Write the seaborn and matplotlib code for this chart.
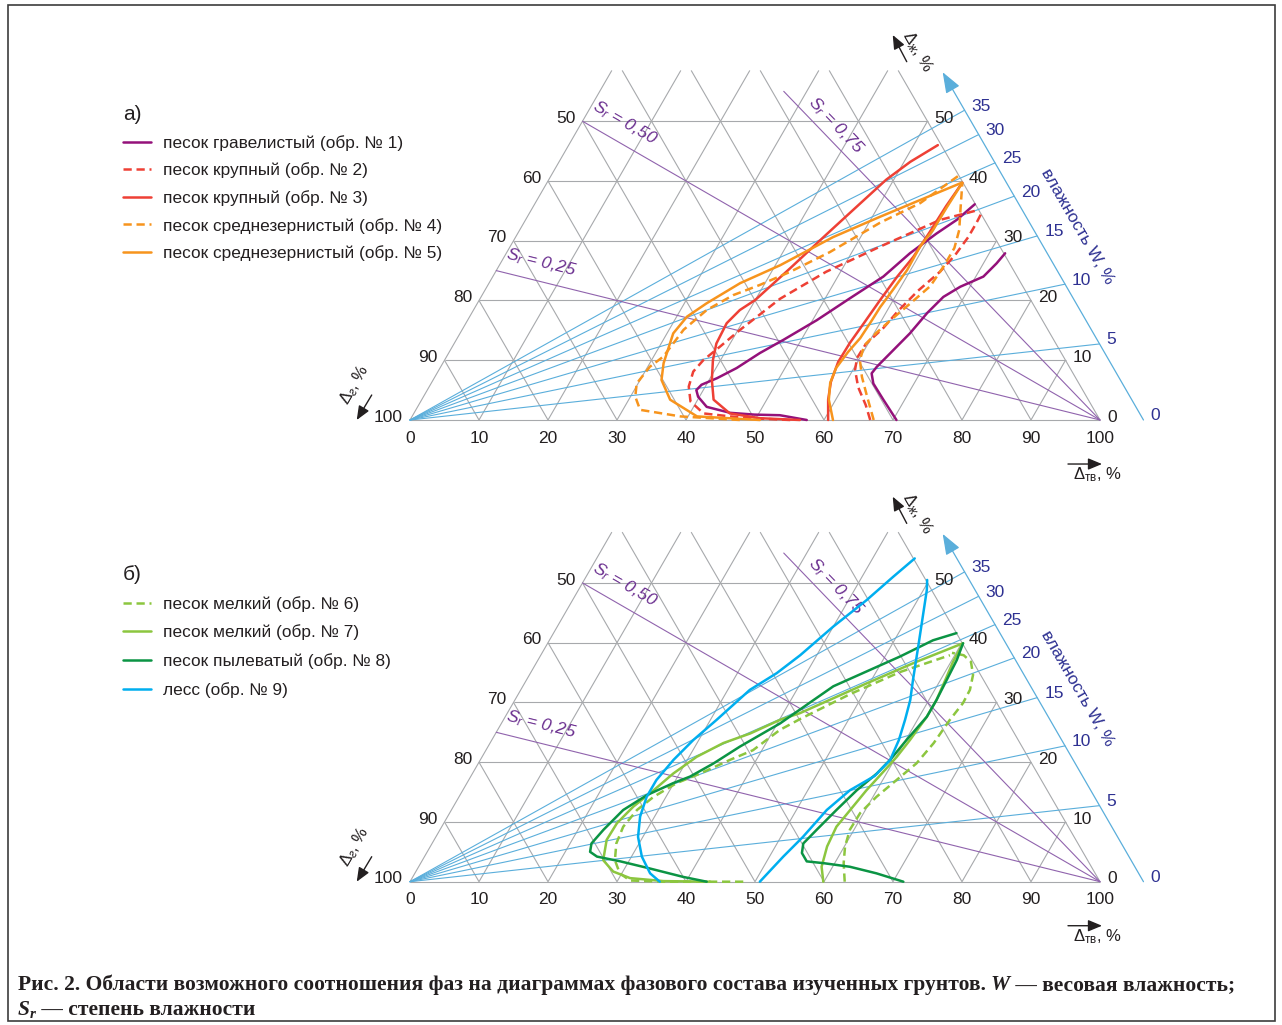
import numpy as np
import matplotlib
matplotlib.use("Agg")
import matplotlib.pyplot as plt
import seaborn as sns
from matplotlib.patches import Rectangle

sns.set_style("white")
plt.rcParams["font.family"] = ["Liberation Sans", "DejaVu Sans"]
plt.rcParams["mathtext.fontset"] = "custom"
plt.rcParams["mathtext.rm"] = "Liberation Sans"
plt.rcParams["mathtext.it"] = "Liberation Sans:italic"
plt.rcParams["mathtext.bf"] = "Liberation Sans:bold"

# ---------------------------------------------------------------- layout
FIG_W, FIG_H = 1282, 1025
PX = 6.9                        # pixels per percent along the base
ORIGIN_X = 410                  # pixel column of the left corner
BASE_A, BASE_B = 420.0, 881.7   # pixel rows of the two base lines

# ---------------------------------------------------------------- scales
TICKS = list(range(0, 101, 10))
H_LEVELS = [10, 20, 30, 40, 50]          # Δж levels of horizontal lines
H_CUT = 58.5                             # the diagram is cut at this Δж
W_LEVELS = [5, 10, 15, 20, 25, 30, 35]   # weight moisture rays, %
W_LABELS = [0, 5, 10, 15, 20, 25, 30, 35]
RHO_S = 2.72                             # particle density for W rays
W_AXIS_SUM = 106.3                       # Δтв + Δж along the W scale
W_AXIS_TOP = 58.2
SR_LEVELS = [0.25, 0.50, 0.75]
SR_TEXT = ["0,25", "0,50", "0,75"]
SR_TOP = 55.0

# ---------------------------------------------------------------- samples (Δтв %, Δж %)
# 1 - песок гравелистый
s1_left_tv = [57.5, 53.2, 49.5, 45.8, 41.9, 39.8, 39.0, 39.3, 41.0, 43.0, 45.1, 47.4, 50.6, 53.6, 56.6, 58.5, 60.7, 62.5, 63.8]
s1_left_zh = [0.0, 0.8, 0.9, 1.2, 2.2, 3.9, 5.0, 5.9, 7.0, 8.7, 11.2, 13.4, 16.7, 20.4, 24.0, 27.9, 31.2, 33.5, 36.1]
s1_right_tv = [70.5, 66.9, 64.1, 63.0, 63.2, 64.2, 65.2, 66.0, 67.0, 68.6, 71.1, 71.9, 72.3]
s1_right_zh = [0.0, 3.4, 6.1, 7.8, 8.9, 11.7, 14.5, 17.9, 20.6, 22.3, 24.0, 26.2, 27.9]
# 2 - песок крупный
s2_left_tv = [55.1, 49.2, 46.1, 42.0, 39.1, 37.6, 37.0, 37.5, 38.8, 40.3, 41.9, 43.5, 47.9, 53.6, 60.1, 64.4]
s2_left_zh = [0.0, 0.3, 0.6, 1.1, 3.1, 5.6, 8.1, 10.0, 12.3, 15.1, 17.7, 20.3, 24.8, 29.0, 33.5, 35.0]
s2_right_tv = [66.7, 64.8, 62.2, 60.3, 59.6, 59.7, 60.9, 61.6, 62.8, 64.4, 65.2, 65.6, 65.6, 65.5]
s2_right_zh = [0.0, 2.5, 5.5, 8.4, 10.4, 12.7, 15.4, 18.2, 21.6, 24.8, 27.6, 30.6, 33.1, 34.8]
# 3 - песок крупный
s3_left_tv = [56.5, 50.6, 45.8, 42.3, 40.4, 38.9, 38.0, 37.8, 38.6, 40.0, 42.4, 44.8, 46.8, 48.9, 50.9, 53.5]
s3_left_zh = [0.0, 0.3, 1.1, 3.4, 6.7, 10.0, 12.8, 16.2, 18.4, 20.1, 25.4, 31.0, 35.5, 40.2, 43.2, 46.0]
s3_right_tv = [60.6, 58.9, 57.8, 57.2, 57.3, 57.7, 58.1, 58.6, 59.3, 59.6, 59.8, 60.2]
s3_right_zh = [0.0, 3.4, 6.4, 9.7, 12.9, 16.4, 20.1, 23.9, 27.3, 31.5, 35.8, 39.7]
# 4 - песок среднезернистый
s4_left_tv = [47.8, 38.9, 32.5, 30.7, 29.8, 30.3, 31.4, 32.1, 33.8, 36.4, 39.4, 42.7, 46.8, 51.6, 55.8, 59.0]
s4_left_zh = [0.0, 0.6, 1.7, 3.9, 6.1, 8.9, 10.6, 15.1, 18.4, 20.9, 22.6, 24.8, 28.1, 33.0, 36.3, 40.8]
s4_right_tv = [67.2, 64.3, 61.9, 60.2, 59.6, 60.3, 61.5, 62.8, 64.2, 64.5, 64.5, 63.7, 62.0, 60.2]
s4_right_zh = [0.0, 3.9, 7.2, 10.0, 12.4, 14.6, 17.1, 19.6, 22.4, 25.8, 28.8, 31.8, 35.6, 39.7]
# 5 - песок среднезернистый
s5_left_tv = [50.7, 41.3, 36.0, 33.1, 32.0, 30.9, 31.5, 33.2, 36.4, 40.7, 46.0, 51.1, 55.5, 60.1]
s5_left_zh = [0.0, 0.6, 3.4, 6.7, 9.5, 14.5, 17.3, 19.5, 22.9, 25.9, 30.6, 34.0, 36.8, 39.7]
s5_right_tv = [61.3, 59.0, 57.8, 57.4, 57.8, 58.4, 58.6, 58.7, 59.1, 59.5, 59.4, 59.9, 60.0, 60.2]
s5_right_zh = [0.0, 3.4, 6.2, 8.7, 11.4, 13.7, 16.7, 18.9, 21.8, 25.1, 29.0, 31.8, 35.6, 39.7]
# 6 - песок мелкий
s6_left_tv = [48.3, 36.7, 31.8, 29.7, 27.9, 26.7, 26.3, 26.9, 28.2, 30.4, 33.0, 36.2, 38.7, 40.9, 42.9, 48.1, 53.5, 59.3]
s6_left_zh = [0.0, 0.0, 0.2, 1.4, 3.6, 6.4, 9.2, 12.0, 14.2, 16.5, 18.1, 20.4, 22.0, 25.4, 27.2, 31.4, 35.1, 37.9]
s6_right_tv = [63.0, 61.3, 60.1, 59.4, 59.5, 60.5, 62.0, 63.5, 64.3, 64.7, 65.2, 65.1, 64.3, 62.9, 61.3, 59.4]
s6_right_zh = [0.0, 3.1, 5.9, 8.7, 11.5, 14.2, 17.0, 19.8, 23.2, 27.1, 29.9, 32.1, 34.6, 36.8, 37.9, 38.3]
# 7 - песок мелкий
s7_left_tv = [43.5, 36.7, 31.6, 28.6, 26.2, 25.0, 25.1, 26.1, 27.4, 29.1, 31.1, 33.8, 36.9, 40.1, 42.4, 49.6, 55.0, 60.2]
s7_left_zh = [0.0, 0.1, 0.6, 1.7, 3.6, 7.0, 9.8, 12.6, 14.8, 18.1, 20.9, 23.2, 24.8, 27.1, 28.2, 33.2, 36.8, 39.9]
s7_right_tv = [59.9, 58.4, 57.5, 57.2, 57.8, 58.5, 59.4, 60.1, 60.6, 61.1, 61.1, 60.7, 60.3, 60.2]
s7_right_zh = [0.0, 2.5, 5.9, 9.2, 12.0, 15.3, 18.4, 20.9, 23.7, 27.6, 30.4, 33.8, 36.8, 39.9]
# 8 - песок пылеватый
s8_left_tv = [43.0, 39.2, 33.7, 28.8, 25.0, 23.6, 23.1, 23.7, 24.9, 27.1, 29.9, 31.8, 34.1, 36.5, 38.8, 40.4, 42.1, 45.0, 48.6, 52.2, 55.6, 58.4]
s8_left_zh = [0.0, 0.8, 2.2, 3.4, 4.2, 5.0, 6.4, 8.7, 12.0, 14.5, 16.5, 17.6, 19.8, 22.6, 24.9, 26.5, 28.8, 32.7, 35.2, 37.7, 40.4, 41.6]
s8_right_tv = [71.5, 66.9, 62.5, 58.4, 55.8, 54.4, 53.8, 54.6, 55.8, 57.1, 58.6, 59.4, 60.1, 61.1, 61.1, 60.9, 60.7, 60.2]
s8_right_zh = [0.0, 1.4, 2.5, 3.1, 3.4, 4.8, 6.4, 8.7, 12.0, 15.3, 18.1, 20.4, 23.7, 27.6, 30.4, 33.8, 37.1, 39.9]
# 9 - лесс
s9_left_tv = [36.2, 34.1, 31.5, 29.3, 27.9, 27.2, 27.2, 28.0, 29.2, 30.9, 33.2, 35.7, 37.6, 40.0, 42.6, 44.5, 46.1]
s9_left_zh = [0.0, 1.4, 4.2, 7.5, 10.9, 14.2, 17.0, 20.4, 23.7, 27.1, 32.1, 34.9, 37.9, 42.7, 47.1, 51.0, 54.1]
s9_right_tv = [50.7, 52.0, 53.2, 54.4, 56.1, 58.5, 59.4, 59.0, 58.2, 57.3, 56.0, 54.0, 51.9, 50.5, 49.7]
s9_right_zh = [0.0, 4.2, 7.5, 12.0, 15.3, 17.7, 20.4, 23.7, 27.1, 30.4, 33.8, 39.3, 45.0, 48.8, 50.5]

LABELS_A = ["песок гравелистый (обр. № 1)", "песок крупный (обр. № 2)",
            "песок крупный (обр. № 3)", "песок среднезернистый (обр. № 4)",
            "песок среднезернистый (обр. № 5)"]
LABELS_B = ["песок мелкий (обр. № 6)", "песок мелкий (обр. № 7)",
            "песок пылеватый (обр. № 8)", "лесс (обр. № 9)"]

# ---------------------------------------------------------------- styles
INK = "#231f20"
GRID = "#a7a9ac"
BLUE = "#5aaedb"
NAVY = "#2e3192"
PURPLE_LINE = "#9063ad"
PURPLE_TEXT = "#6a2e8f"
DASH = (0, (3.3, 1.9))
NUM_SIZE = 12.5

samples_a = [
    (LABELS_A[0], "#94117a", "-", [(s1_left_tv, s1_left_zh), (s1_right_tv, s1_right_zh)]),
    (LABELS_A[1], "#ee4035", DASH, [(s2_left_tv, s2_left_zh), (s2_right_tv, s2_right_zh)]),
    (LABELS_A[2], "#ee4035", "-", [(s3_left_tv, s3_left_zh), (s3_right_tv, s3_right_zh)]),
    (LABELS_A[3], "#f7941d", DASH, [(s4_left_tv, s4_left_zh), (s4_right_tv, s4_right_zh)]),
    (LABELS_A[4], "#f7941d", "-", [(s5_left_tv, s5_left_zh), (s5_right_tv, s5_right_zh)]),
]
samples_b = [
    (LABELS_B[0], "#8cc63f", DASH, [(s6_left_tv, s6_left_zh), (s6_right_tv, s6_right_zh)]),
    (LABELS_B[1], "#8cc63f", "-", [(s7_left_tv, s7_left_zh), (s7_right_tv, s7_right_zh)]),
    (LABELS_B[2], "#0b9444", "-", [(s8_left_tv, s8_left_zh), (s8_right_tv, s8_right_zh)]),
    (LABELS_B[3], "#00aeef", "-", [(s9_left_tv, s9_left_zh), (s9_right_tv, s9_right_zh)]),
]

SQ3 = np.sqrt(3) / 2


def to_xy(tv, zh):
    """Ternary (Δтв, Δж) -> Cartesian, base of length 100."""
    tv = np.asarray(tv, float)
    zh = np.asarray(zh, float)
    return tv + zh / 2, zh * SQ3


fig = plt.figure(figsize=(FIG_W / 100, FIG_H / 100), dpi=100)


def make_axes(base_row):
    ax = fig.add_axes([0, 0, 1, 1])
    ax.set_facecolor("none")
    ax.set_xlim(-ORIGIN_X / PX, (FIG_W - ORIGIN_X) / PX)
    ax.set_ylim((base_row - FIG_H) / PX, base_row / PX)
    ax.axis("off")
    return ax


def draw_frame(ax):
    grey = dict(color=GRID, lw=0.8, zorder=1, solid_capstyle="butt")
    for h in [0] + H_LEVELS:
        x, y = to_xy([0, 100 - h], [h, h])
        ax.plot(x, y, **grey)
    for t in range(0, 100, 10):
        top = min(100 - t, H_CUT)
        x, y = to_xy([t, t], [0, top])
        ax.plot(x, y, **grey)
    for g in range(0, 100, 10):
        top = min(100 - g, H_CUT)
        x, y = to_xy([100 - g, 100 - g - top], [0, top])
        ax.plot(x, y, **grey)

    # weight moisture rays from the Δг = 100 % corner
    for w in W_LEVELS:
        r = w * RHO_S / 100
        s = W_AXIS_SUM / (1 + r)
        x, y = to_xy([0, s], [0, s * r])
        ax.plot(x, y, color=BLUE, lw=0.8, zorder=2)
    x0, y0 = to_xy(W_AXIS_SUM, 0)
    x1, y1 = to_xy(W_AXIS_SUM - W_AXIS_TOP, W_AXIS_TOP)
    ax.annotate("", xy=(x1, y1), xytext=(x0, y0),
                arrowprops=dict(arrowstyle="-|>,head_length=0.8,head_width=0.3",
                                color=BLUE, lw=0.9, shrinkA=0, shrinkB=0,
                                mutation_scale=16), zorder=2)
    for w in W_LABELS:
        r = w * RHO_S / 100
        s = W_AXIS_SUM / (1 + r)
        x, y = to_xy(s, s * r)
        ax.annotate(str(w), (x, y), xytext=(5, 3), textcoords="offset points",
                    ha="left", va="center", color=NAVY, fontsize=NUM_SIZE)
    ax.text(96.7, 28.0, "влажность W, %", rotation=-60, rotation_mode="anchor",
            ha="center", va="center", color=NAVY, fontsize=12.5)

    # degree of saturation rays from the Δтв = 100 % corner
    for sr in SR_LEVELS:
        zt = 100 * sr
        s = min(1.0, SR_TOP / zt)
        x, y = to_xy([100, 100 * (1 - s)], [0, zt * s])
        ax.plot(x, y, color=PURPLE_LINE, lw=0.8, zorder=2)
    sr_pos = [(18.99, 22.75, -13.9), (31.16, 43.04, -30.0), (61.74, 42.75, -46.1)]
    for (x, y, rot), txt in zip(sr_pos, SR_TEXT):
        ax.text(x, y, r"$S_r$ = " + txt, rotation=rot, rotation_mode="anchor",
                ha="center", va="center", color=PURPLE_TEXT, fontsize=12.5,
                style="italic")

    # scale numbers
    for k in TICKS:
        x, y = to_xy(k, 0)
        ax.annotate(str(k), (x, y), xytext=(0, -13), textcoords="offset points",
                    ha="center", va="center", color=INK, fontsize=NUM_SIZE)
    for h in [0] + H_LEVELS:
        x, y = to_xy(0, h)
        ax.annotate(str(100 - h), (x, y), xytext=(-5, 2), textcoords="offset points",
                    ha="right", va="center", color=INK, fontsize=NUM_SIZE)
        x, y = to_xy(100 - h, h)
        ax.annotate(str(h), (x, y), xytext=(5, 2), textcoords="offset points",
                    ha="left", va="center", color=INK, fontsize=NUM_SIZE)

    # component names with direction arrows
    arrow = dict(arrowstyle="-|>,head_length=0.6,head_width=0.25", color=INK,
                 lw=1.0, shrinkA=0, shrinkB=0, mutation_scale=14)
    ax.annotate("", xy=(100.29, -6.38), xytext=(95.36, -6.38), arrowprops=arrow)
    ax.text(96.09, -7.9, r"$\Delta_{\mathrm{тв}}$, %", ha="left", va="center",
            color=INK, fontsize=12)
    ax.annotate("", xy=(-7.72, 0.0), xytext=(-5.55, 3.62), arrowprops=arrow)
    ax.text(-7.97, 5.1, r"$\Delta_{г}$, %", rotation=60, rotation_mode="anchor",
            ha="center", va="center", color=INK, fontsize=12)
    ax.annotate("", xy=(69.96, 55.80), xytext=(71.99, 51.93), arrowprops=arrow)
    ax.text(73.5, 53.3, r"$\Delta_{ж}$, %", rotation=-60, rotation_mode="anchor",
            ha="center", va="center", color=INK, fontsize=12)


def draw_samples(ax, samples, legend_top, spacing, tag, tag_row):
    handles, labels = [], []
    for label, color, ls, branches in samples:
        for i, (tv, zh) in enumerate(branches):
            x, y = to_xy(tv, zh)
            sns.lineplot(x=x, y=y, sort=False, estimator=None, color=color,
                         linewidth=1.8, linestyle=ls, ax=ax, legend=False,
                         zorder=4)
            if i == 0:
                handles.append(ax.get_lines()[-1])
                labels.append(label)
    ax.legend(handles, labels, loc="upper left",
              bbox_to_anchor=(123 / FIG_W, 1 - legend_top / FIG_H),
              bbox_transform=fig.transFigure, frameon=False, borderpad=0,
              borderaxespad=0, handlelength=1.6, handletextpad=0.7,
              labelspacing=spacing, fontsize=12.4, labelcolor=INK)
    fig.text(123 / FIG_W, 1 - tag_row / FIG_H, tag, ha="left", va="center",
             fontsize=15, color=INK)
    ax.set_xlim(-ORIGIN_X / PX, (FIG_W - ORIGIN_X) / PX)


ax_a = make_axes(BASE_A)
draw_frame(ax_a)
draw_samples(ax_a, samples_a, 135, 0.68, "а)", 114)
ax_a.set_ylim((BASE_A - FIG_H) / PX, BASE_A / PX)

ax_b = make_axes(BASE_B)
draw_frame(ax_b)
draw_samples(ax_b, samples_b, 596, 0.74, "б)", 575)
ax_b.set_ylim((BASE_B - FIG_H) / PX, BASE_B / PX)

# outer frame
fig.add_artist(Rectangle((8 / FIG_W, 1 - 1021 / FIG_H), (1275 - 8) / FIG_W,
                         (1021 - 5) / FIG_H, transform=fig.transFigure,
                         fill=False, ec="#3c3c3c", lw=1.2))

# caption, set piece by piece on a common baseline
fig.canvas.draw()
renderer = fig.canvas.get_renderer()
CAP_SIZE = 15.5


def caption_line(x_px, y_px, parts):
    for text, style, scale, drop in parts:
        t = fig.text(x_px / FIG_W, 1 - (y_px + drop) / FIG_H, text, ha="left",
                     va="baseline", fontfamily="Liberation Serif",
                     fontweight="bold", fontstyle=style,
                     fontsize=CAP_SIZE * scale, color=INK)
        x_px += t.get_window_extent(renderer).width
    return x_px


caption_line(18, 990, [
    ("Рис. 2. Области возможного соотношения фаз на диаграммах фазового "
     "состава изученных грунтов.", "normal", 1.0, 0),
    (" W", "italic", 1.0, 0),
    (" — весовая влажность;", "normal", 1.0, 0),
])
caption_line(18, 1015, [
    ("S", "italic", 1.0, 0),
    ("r", "italic", 0.7, 3),
    (" — степень влажности", "normal", 1.0, 0),
])

fig.savefig("out.png", dpi=100)
